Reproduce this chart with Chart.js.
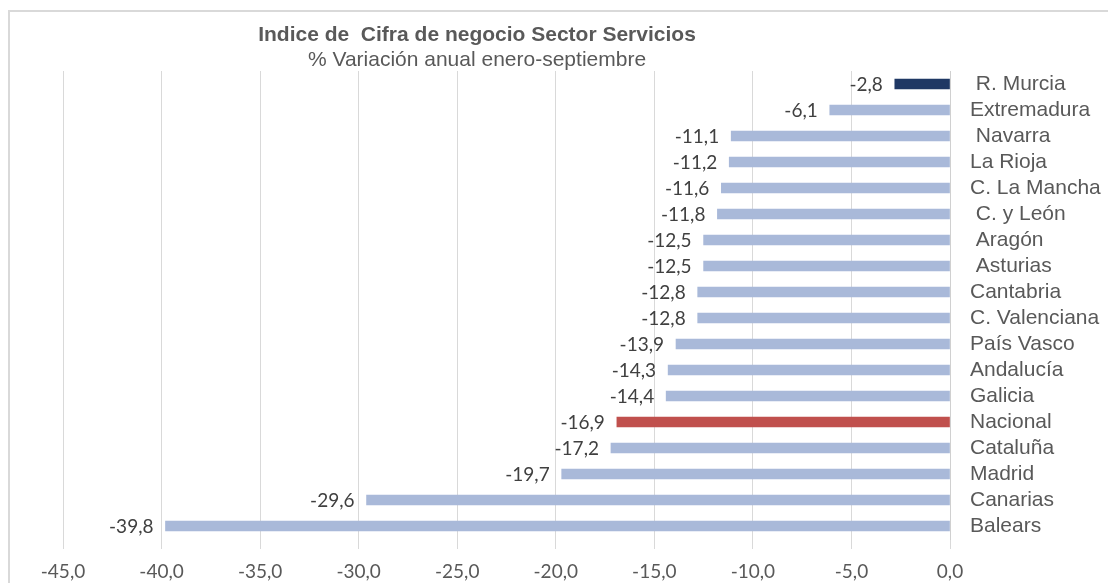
<!DOCTYPE html>
<html>
<head>
<meta charset="utf-8">
<script src="https://cdn.jsdelivr.net/npm/chart.js@4"></script>
<style>
  html, body { margin: 0; padding: 0; background: #ffffff; }
  #c { display: block; }
</style>
</head>
<body>
<canvas id="c" width="1108" height="583"></canvas>
<script>
// ---- Data ----
const categories = [" R. Murcia", "Extremadura", " Navarra", "La Rioja", "C. La Mancha", " C. y León", " Aragón", " Asturias", "Cantabria", "C. Valenciana", "País Vasco", "Andalucía", "Galicia", "Nacional", "Cataluña", "Madrid", "Canarias", "Balears"];
const values = [-2.8, -6.1, -11.1, -11.2, -11.6, -11.8, -12.5, -12.5, -12.8, -12.8, -13.9, -14.3, -14.4, -16.9, -17.2, -19.7, -29.6, -39.8];
const xTicks = [-45, -40, -35, -30, -25, -20, -15, -10, -5, 0];
const titleText = "Indice de  Cifra de negocio Sector Servicios";
const subtitleText = "% Variación anual enero-septiembre";

// ---- Styles ----
const baseColor = "#A9B9D9";
const highlight = { " R. Murcia": "#1F3864", "Nacional": "#C0504D" };
const barColors = categories.map(c => highlight[c] || baseColor);
const fmt = v => v.toFixed(1).replace('.', ',');

const frame = {
  id: 'frame',
  beforeDraw(chart) {
    const ctx = chart.ctx;
    ctx.save();
    ctx.strokeStyle = '#D9D9D9';
    ctx.lineWidth = 2;
    ctx.strokeRect(9, 11, chart.width + 20, chart.height + 20);
    ctx.restore();
  },
  afterDraw(chart) {
    const ctx = chart.ctx;
    ctx.save();
    ctx.fillStyle = '#595959';
    ctx.textAlign = 'center';
    ctx.textBaseline = 'middle';
    ctx.font = 'bold 21px "Liberation Sans", Arial, sans-serif';
    ctx.fillText(titleText, 477, 35);
    ctx.font = '21px "Liberation Sans", Arial, sans-serif';
    ctx.fillText(subtitleText, 477, 60);
    ctx.restore();
  }
};

const valueLabels = {
  id: 'valueLabels',
  afterDatasetsDraw(chart) {
    const ctx = chart.ctx;
    const meta = chart.getDatasetMeta(0);
    ctx.save();
    ctx.fillStyle = '#404040';
    ctx.font = '19px Lato, "Liberation Sans", sans-serif';
    ctx.textAlign = 'right';
    ctx.textBaseline = 'middle';
    meta.data.forEach((el, i) => {
      ctx.fillText(fmt(values[i]), el.x - 12, el.y + 1);
    });
    ctx.restore();
  }
};

new Chart(document.getElementById('c'), {
  type: 'bar',
  data: {
    labels: categories,
    datasets: [{
      data: values,
      backgroundColor: barColors,
      borderWidth: 0,
      barThickness: 10
    }]
  },
  options: {
    indexAxis: 'y',
    responsive: false,
    animation: false,
    events: [],
    layout: { padding: { left: 63, right: 0, top: 71, bottom: 0 } },
    plugins: { legend: { display: false }, tooltip: { enabled: false }, title: { display: false } },
    scales: {
      x: {
        type: 'linear',
        min: -45,
        max: 0,
        afterBuildTicks: s => { s.ticks = xTicks.map(v => ({ value: v })); },
        grid: { color: '#D9D9D9', lineWidth: 1, drawTicks: true, tickLength: 10, tickColor: '#D9D9D9' },
        border: { display: false },
        ticks: {
          callback: v => fmt(v),
          color: '#595959',
          font: { family: 'Lato, "Liberation Sans", sans-serif', size: 19 },
          padding: 11,
          maxRotation: 0,
          autoSkip: false
        },
        afterFit: s => { s.height = 44; }
      },
      y: {
        position: 'right',
        grid: { display: false, drawTicks: false },
        border: { display: true, color: '#D0D0D0', width: 1 },
        ticks: {
          color: '#595959',
          font: { family: '"Liberation Sans", Arial, sans-serif', size: 21 },
          padding: 20,
          crossAlign: 'near',
          autoSkip: false
        },
        afterFit: s => { s.width = 158; }
      }
    }
  },
  plugins: [frame, valueLabels]
});
</script>
</body>
</html>
